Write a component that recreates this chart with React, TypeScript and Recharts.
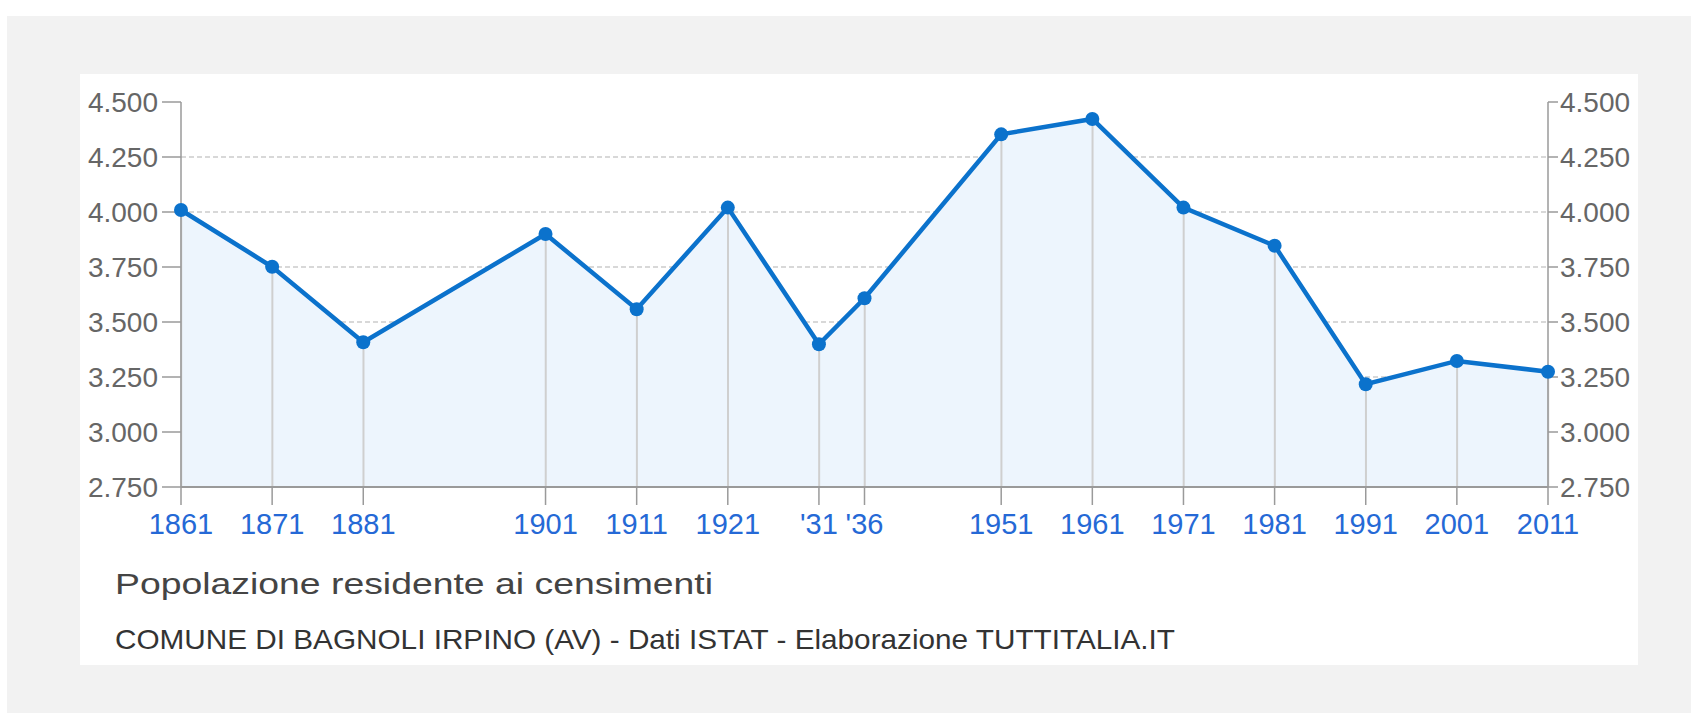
import React from 'react';
import {
  ComposedChart,
  Area,
  Line,
  Bar,
  XAxis,
  YAxis,
  CartesianGrid,
} from 'recharts';

// ---- data ----
const years = [1861, 1871, 1881, 1901, 1911, 1921, 1931, 1936, 1951, 1961, 1971, 1981, 1991, 2001, 2011];
const population = [4009, 3751, 3408, 3900, 3558, 4020, 3399, 3608, 4353, 4423, 4020, 3847, 3217, 3323, 3274];
const xTickLabels = ['1861', '1871', '1881', '1901', '1911', '1921', "'31", "'36", '1951', '1961', '1971', '1981', '1991', '2001', '2011'];
const yTicks = [2750, 3000, 3250, 3500, 3750, 4000, 4250, 4500];
const gridValues = [3000, 3250, 3500, 3750, 4000, 4250];
const yDomain: [number, number] = [2750, 4500];
const title = 'Popolazione residente ai censimenti';
const subtitle = 'COMUNE DI BAGNOLI IRPINO (AV) - Dati ISTAT - Elaborazione TUTTITALIA.IT';

const data = years.map((y, i) => ({ year: y, pop: population[i] }));

const FONT = '"Liberation Sans", Arial, Helvetica, sans-serif';
const BLUE = '#0b72cc';

const fmtY = (v: number) => `${Math.floor(v / 1000)}.${String(v % 1000).padStart(3, '0')}`;
const fmtX = (v: number) => {
  const i = years.indexOf(v);
  return i >= 0 ? xTickLabels[i] : String(v);
};

const gridGen = (props: any) => {
  const yAxis = props?.yAxis;
  if (yAxis && typeof yAxis.scale === 'function') {
    return gridValues.map((v) => yAxis.scale(v));
  }
  const off = props.offset;
  return gridValues.map((v) => off.top + ((yDomain[1] - v) / (yDomain[1] - yDomain[0])) * off.height);
};

export default function App() {
  return (
    <div style={{ position: 'absolute', left: 0, top: 0, width: 1691, height: 713, background: '#ffffff', overflow: 'hidden' }}>
      <div style={{ position: 'absolute', left: 7, top: 16, width: 1684, height: 697, background: '#f2f2f2' }} />
      <div style={{ position: 'absolute', left: 80, top: 74, width: 1558, height: 591, background: '#ffffff' }} />
      <div style={{ position: 'absolute', left: 80, top: 74 }}>
        <ComposedChart
          width={1558}
          height={470}
          data={data}
          margin={{ top: 28, right: 0, left: 0, bottom: 0 }}
        >
          <CartesianGrid
            yAxisId="left"
            vertical={false}
            stroke="#cccccc"
            strokeDasharray="5 3"
            strokeWidth={1.5}
            horizontalCoordinatesGenerator={gridGen}
          />
          <XAxis
            dataKey="year"
            type="number"
            domain={[1861, 2011]}
            ticks={years}
            interval={0}
            tickFormatter={fmtX}
            height={57}
            tickSize={18}
            tickMargin={8}
            stroke="#9a9a9a"
            axisLine={{ stroke: '#9a9a9a', strokeWidth: 2 }}
            tickLine={{ stroke: '#9a9a9a', strokeWidth: 1.5 }}
            tick={{ fill: '#2569d6', fontSize: 29, fontFamily: FONT }}
          />
          <YAxis
            yAxisId="left"
            orientation="left"
            width={101}
            domain={yDomain}
            ticks={yTicks}
            interval={0}
            tickFormatter={fmtY}
            tickSize={19}
            tickMargin={4}
            axisLine={{ stroke: '#9a9a9a', strokeWidth: 1.5 }}
            tickLine={{ stroke: '#9a9a9a', strokeWidth: 1.5 }}
            tick={{ fill: '#666666', fontSize: 28, fontFamily: FONT }}
          />
          <YAxis
            yAxisId="right"
            orientation="right"
            width={90}
            domain={yDomain}
            ticks={yTicks}
            interval={0}
            tickFormatter={fmtY}
            tickSize={10}
            tickMargin={2}
            axisLine={{ stroke: '#9a9a9a', strokeWidth: 1.5 }}
            tickLine={{ stroke: '#9a9a9a', strokeWidth: 1.5 }}
            tick={{ fill: '#666666', fontSize: 28, fontFamily: FONT }}
          />
          <Area
            yAxisId="left"
            dataKey="pop"
            type="linear"
            stroke="none"
            fill="#edf5fd"
            fillOpacity={1}
            isAnimationActive={false}
            activeDot={false}
          />
          <Bar
            yAxisId="left"
            dataKey="pop"
            barSize={2}
            fill="#cfcfcf"
            isAnimationActive={false}
          />
          <Line
            yAxisId="right"
            dataKey="pop"
            type="linear"
            stroke="none"
            strokeWidth={0}
            dot={false}
            activeDot={false}
            isAnimationActive={false}
          />
          <Line
            yAxisId="left"
            dataKey="pop"
            type="linear"
            stroke={BLUE}
            strokeWidth={4.5}
            dot={{ r: 7, fill: BLUE, stroke: 'none' }}
            activeDot={false}
            isAnimationActive={false}
          />
        </ComposedChart>
      </div>
      <svg style={{ position: 'absolute', left: 0, top: 0 }} width={1691} height={713}>
        <text x={115} y={594} fontFamily={FONT} fontSize={30} fill="#444444" textLength={598} lengthAdjust="spacingAndGlyphs">
          {title}
        </text>
        <text x={115} y={649} fontFamily={FONT} fontSize={28} fill="#333333" textLength={1060} lengthAdjust="spacingAndGlyphs">
          {subtitle}
        </text>
      </svg>
    </div>
  );
}
